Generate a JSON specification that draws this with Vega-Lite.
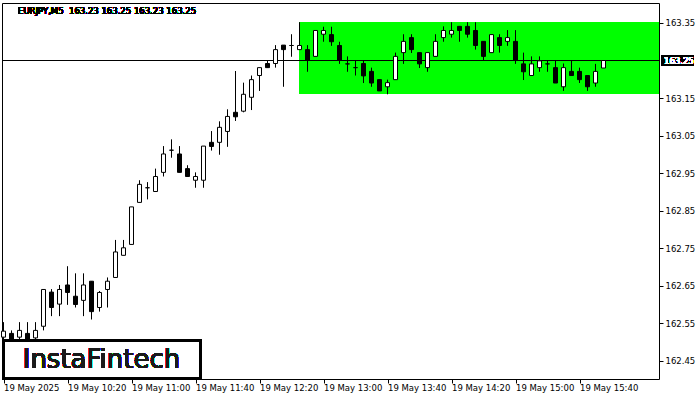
{
  "$schema": "https://vega.github.io/schema/vega-lite/v6.json",
  "width": 657,
  "height": 376,
  "autosize": {"type": "none"},
  "padding": {"left": 2, "top": 3, "right": 41, "bottom": 21},
  "background": "white",
  "config": {
    "view": {"stroke": "black", "strokeWidth": 1},
    "axis": {"labelFont": "DejaVu Sans", "labelColor": "black", "tickColor": "black", "domain": false, "grid": false, "title": null}
  },
  "data": {
    "format": {"parse": {"t": "utc:'%Y-%m-%d %H:%M'"}},
    "values": [
      {"t": "2025-05-19 09:40", "o": 162.513, "h": 162.553, "l": 162.500, "c": 162.529},
      {"t": "2025-05-19 09:45", "o": 162.523, "h": 162.531, "l": 162.497, "c": 162.508},
      {"t": "2025-05-19 09:50", "o": 162.513, "h": 162.553, "l": 162.497, "c": 162.531},
      {"t": "2025-05-19 09:55", "o": 162.523, "h": 162.553, "l": 162.492, "c": 162.505},
      {"t": "2025-05-19 10:00", "o": 162.511, "h": 162.553, "l": 162.500, "c": 162.531},
      {"t": "2025-05-19 10:05", "o": 162.542, "h": 162.640, "l": 162.531, "c": 162.640},
      {"t": "2025-05-19 10:10", "o": 162.633, "h": 162.641, "l": 162.569, "c": 162.592},
      {"t": "2025-05-19 10:15", "o": 162.601, "h": 162.652, "l": 162.569, "c": 162.640},
      {"t": "2025-05-19 10:20", "o": 162.652, "h": 162.702, "l": 162.599, "c": 162.632},
      {"t": "2025-05-19 10:25", "o": 162.622, "h": 162.683, "l": 162.592, "c": 162.600},
      {"t": "2025-05-19 10:30", "o": 162.611, "h": 162.683, "l": 162.569, "c": 162.652},
      {"t": "2025-05-19 10:35", "o": 162.662, "h": 162.662, "l": 162.560, "c": 162.581},
      {"t": "2025-05-19 10:40", "o": 162.592, "h": 162.636, "l": 162.581, "c": 162.632},
      {"t": "2025-05-19 10:45", "o": 162.640, "h": 162.672, "l": 162.592, "c": 162.662},
      {"t": "2025-05-19 10:50", "o": 162.672, "h": 162.772, "l": 162.672, "c": 162.740},
      {"t": "2025-05-19 10:55", "o": 162.731, "h": 162.772, "l": 162.731, "c": 162.751},
      {"t": "2025-05-19 11:00", "o": 162.760, "h": 162.860, "l": 162.760, "c": 162.860},
      {"t": "2025-05-19 11:05", "o": 162.872, "h": 162.931, "l": 162.872, "c": 162.920},
      {"t": "2025-05-19 11:10", "o": 162.911, "h": 162.926, "l": 162.880, "c": 162.911},
      {"t": "2025-05-19 11:15", "o": 162.901, "h": 162.962, "l": 162.901, "c": 162.941},
      {"t": "2025-05-19 11:20", "o": 162.952, "h": 163.022, "l": 162.941, "c": 163.001},
      {"t": "2025-05-19 11:25", "o": 163.011, "h": 163.040, "l": 162.991, "c": 163.011},
      {"t": "2025-05-19 11:30", "o": 163.001, "h": 163.022, "l": 162.952, "c": 162.952},
      {"t": "2025-05-19 11:35", "o": 162.962, "h": 162.971, "l": 162.941, "c": 162.941},
      {"t": "2025-05-19 11:40", "o": 162.931, "h": 162.952, "l": 162.911, "c": 162.941},
      {"t": "2025-05-19 11:45", "o": 162.931, "h": 163.022, "l": 162.911, "c": 163.022},
      {"t": "2025-05-19 11:50", "o": 163.032, "h": 163.062, "l": 163.010, "c": 163.021},
      {"t": "2025-05-19 11:55", "o": 163.032, "h": 163.088, "l": 162.999, "c": 163.072},
      {"t": "2025-05-19 12:00", "o": 163.061, "h": 163.120, "l": 163.020, "c": 163.101},
      {"t": "2025-05-19 12:05", "o": 163.112, "h": 163.222, "l": 163.089, "c": 163.100},
      {"t": "2025-05-19 12:10", "o": 163.115, "h": 163.191, "l": 163.112, "c": 163.160},
      {"t": "2025-05-19 12:15", "o": 163.152, "h": 163.210, "l": 163.118, "c": 163.199},
      {"t": "2025-05-19 12:20", "o": 163.210, "h": 163.231, "l": 163.169, "c": 163.231},
      {"t": "2025-05-19 12:25", "o": 163.242, "h": 163.251, "l": 163.231, "c": 163.231},
      {"t": "2025-05-19 12:30", "o": 163.242, "h": 163.291, "l": 163.231, "c": 163.279},
      {"t": "2025-05-19 12:35", "o": 163.291, "h": 163.291, "l": 163.180, "c": 163.279},
      {"t": "2025-05-19 12:40", "o": 163.290, "h": 163.320, "l": 163.260, "c": 163.290},
      {"t": "2025-05-19 12:45", "o": 163.279, "h": 163.352, "l": 163.279, "c": 163.290},
      {"t": "2025-05-19 12:50", "o": 163.279, "h": 163.291, "l": 163.220, "c": 163.251},
      {"t": "2025-05-19 12:55", "o": 163.261, "h": 163.330, "l": 163.261, "c": 163.330},
      {"t": "2025-05-19 13:00", "o": 163.320, "h": 163.340, "l": 163.300, "c": 163.330},
      {"t": "2025-05-19 13:05", "o": 163.319, "h": 163.340, "l": 163.289, "c": 163.300},
      {"t": "2025-05-19 13:10", "o": 163.290, "h": 163.300, "l": 163.241, "c": 163.251},
      {"t": "2025-05-19 13:15", "o": 163.241, "h": 163.261, "l": 163.220, "c": 163.241},
      {"t": "2025-05-19 13:20", "o": 163.231, "h": 163.251, "l": 163.210, "c": 163.231},
      {"t": "2025-05-19 13:25", "o": 163.242, "h": 163.251, "l": 163.190, "c": 163.209},
      {"t": "2025-05-19 13:30", "o": 163.221, "h": 163.231, "l": 163.180, "c": 163.190},
      {"t": "2025-05-19 13:35", "o": 163.199, "h": 163.199, "l": 163.169, "c": 163.169},
      {"t": "2025-05-19 13:40", "o": 163.180, "h": 163.199, "l": 163.160, "c": 163.191},
      {"t": "2025-05-19 13:45", "o": 163.199, "h": 163.271, "l": 163.199, "c": 163.261},
      {"t": "2025-05-19 13:50", "o": 163.271, "h": 163.320, "l": 163.241, "c": 163.301},
      {"t": "2025-05-19 13:55", "o": 163.311, "h": 163.320, "l": 163.270, "c": 163.279},
      {"t": "2025-05-19 14:00", "o": 163.271, "h": 163.271, "l": 163.230, "c": 163.241},
      {"t": "2025-05-19 14:05", "o": 163.231, "h": 163.271, "l": 163.220, "c": 163.271},
      {"t": "2025-05-19 14:10", "o": 163.261, "h": 163.320, "l": 163.261, "c": 163.301},
      {"t": "2025-05-19 14:15", "o": 163.311, "h": 163.341, "l": 163.300, "c": 163.330},
      {"t": "2025-05-19 14:20", "o": 163.320, "h": 163.352, "l": 163.311, "c": 163.330},
      {"t": "2025-05-19 14:25", "o": 163.341, "h": 163.341, "l": 163.300, "c": 163.330},
      {"t": "2025-05-19 14:30", "o": 163.341, "h": 163.352, "l": 163.311, "c": 163.320},
      {"t": "2025-05-19 14:35", "o": 163.330, "h": 163.352, "l": 163.279, "c": 163.290},
      {"t": "2025-05-19 14:40", "o": 163.301, "h": 163.301, "l": 163.251, "c": 163.261},
      {"t": "2025-05-19 14:45", "o": 163.271, "h": 163.319, "l": 163.271, "c": 163.319},
      {"t": "2025-05-19 14:50", "o": 163.311, "h": 163.320, "l": 163.271, "c": 163.290},
      {"t": "2025-05-19 14:55", "o": 163.301, "h": 163.331, "l": 163.289, "c": 163.311},
      {"t": "2025-05-19 15:00", "o": 163.301, "h": 163.331, "l": 163.241, "c": 163.251},
      {"t": "2025-05-19 15:05", "o": 163.241, "h": 163.271, "l": 163.198, "c": 163.220},
      {"t": "2025-05-19 15:10", "o": 163.210, "h": 163.261, "l": 163.210, "c": 163.241},
      {"t": "2025-05-19 15:15", "o": 163.231, "h": 163.261, "l": 163.220, "c": 163.249},
      {"t": "2025-05-19 15:20", "o": 163.241, "h": 163.250, "l": 163.220, "c": 163.241},
      {"t": "2025-05-19 15:25", "o": 163.231, "h": 163.250, "l": 163.190, "c": 163.190},
      {"t": "2025-05-19 15:30", "o": 163.180, "h": 163.242, "l": 163.169, "c": 163.231},
      {"t": "2025-05-19 15:35", "o": 163.221, "h": 163.250, "l": 163.210, "c": 163.210},
      {"t": "2025-05-19 15:40", "o": 163.221, "h": 163.231, "l": 163.190, "c": 163.199},
      {"t": "2025-05-19 15:45", "o": 163.210, "h": 163.210, "l": 163.169, "c": 163.180},
      {"t": "2025-05-19 15:50", "o": 163.190, "h": 163.241, "l": 163.180, "c": 163.221},
      {"t": "2025-05-19 15:55", "o": 163.230, "h": 163.250, "l": 163.230, "c": 163.250}
    ]
  },
  "layer": [
    {
      "mark": {"type": "rect", "color": "#00ff00"},
      "encoding": {
        "x": {"datum": {"year": 2025, "month": "May", "date": 19, "hours": 12, "minutes": 45, "utc": true}, "type": "temporal"},
        "x2": {"datum": {"year": 2025, "month": "May", "date": 19, "hours": 16, "minutes": 29, "seconds": 41, "milliseconds": 250, "utc": true}},
        "y": {"datum": 163.352, "type": "quantitative"},
        "y2": {"datum": 163.161}
      }
    },
    {
      "mark": {"type": "rule", "color": "black", "strokeWidth": 1},
      "encoding": {"y": {"datum": 163.25, "type": "quantitative"}}
    },
    {
      "mark": {"type": "rule", "color": "black", "strokeWidth": 1},
      "encoding": {
        "x": {
          "field": "t", "type": "temporal",
          "scale": {
            "type": "utc", "nice": false, "padding": 0,
            "domain": [
              {"year": 2025, "month": "May", "date": 19, "hours": 9, "minutes": 39, "seconds": 3, "milliseconds": 750, "utc": true},
              {"year": 2025, "month": "May", "date": 19, "hours": 16, "minutes": 29, "seconds": 41, "milliseconds": 250, "utc": true}
            ]
          },
          "axis": {
            "orient": "bottom",
            "values": [
              {"year": 2025, "month": "May", "date": 19, "hours": 9, "minutes": 40, "utc": true},
              {"year": 2025, "month": "May", "date": 19, "hours": 10, "minutes": 20, "utc": true},
              {"year": 2025, "month": "May", "date": 19, "hours": 11, "minutes": 0, "utc": true},
              {"year": 2025, "month": "May", "date": 19, "hours": 11, "minutes": 40, "utc": true},
              {"year": 2025, "month": "May", "date": 19, "hours": 12, "minutes": 20, "utc": true},
              {"year": 2025, "month": "May", "date": 19, "hours": 13, "minutes": 0, "utc": true},
              {"year": 2025, "month": "May", "date": 19, "hours": 13, "minutes": 40, "utc": true},
              {"year": 2025, "month": "May", "date": 19, "hours": 14, "minutes": 20, "utc": true},
              {"year": 2025, "month": "May", "date": 19, "hours": 15, "minutes": 0, "utc": true},
              {"year": 2025, "month": "May", "date": 19, "hours": 15, "minutes": 40, "utc": true}
            ],
            "labelExpr": "utcFormat(datum.value, '%H:%M') == '09:40' ? '19 May 2025' : utcFormat(datum.value, '%d %b %H:%M')",
            "labelAlign": "left",
            "labelBaseline": "top",
            "labelFontSize": 8.5,
            "labelPadding": 0,
            "tickSize": 4,
            "labelOverlap": false,
            "labelFlush": false
          }
        },
        "y": {
          "field": "l", "type": "quantitative",
          "scale": {"domain": [162.4015, 163.4032], "nice": false, "zero": false, "padding": 0},
          "axis": {
            "orient": "right",
            "values": [162.45, 162.55, 162.65, 162.75, 162.85, 162.95, 163.05, 163.15, 163.35],
            "format": ".2f",
            "labelFontSize": 8.5,
            "labelPadding": 2,
            "tickSize": 4
          }
        },
        "y2": {"field": "h"}
      }
    },
    {
      "mark": {"type": "bar", "size": 4, "stroke": "black", "strokeWidth": 1},
      "encoding": {
        "x": {"field": "t", "type": "temporal"},
        "y": {"field": "o", "type": "quantitative"},
        "y2": {"field": "c"},
        "fill": {"condition": {"test": "datum.c < datum.o", "value": "black"}, "value": "white"}
      }
    },
    {
      "mark": {"type": "rect", "fill": "white", "stroke": "black", "strokeWidth": 3},
      "encoding": {
        "x": {"datum": {"year": 2025, "month": "May", "date": 19, "hours": 9, "minutes": 40, "utc": true}, "type": "temporal"},
        "x2": {"datum": {"year": 2025, "month": "May", "date": 19, "hours": 11, "minutes": 43, "seconds": 7, "milliseconds": 500, "utc": true}},
        "y": {"datum": 162.504, "type": "quantitative"},
        "y2": {"datum": 162.403}
      }
    },
    {
      "mark": {"type": "text", "text": "InstaFintech", "font": "DejaVu Sans", "fontSize": 26, "color": "#1a1a1a", "align": "center", "baseline": "middle"},
      "encoding": {
        "x": {"datum": {"year": 2025, "month": "May", "date": 19, "hours": 10, "minutes": 41, "seconds": 15, "utc": true}, "type": "temporal"},
        "y": {"datum": 162.452, "type": "quantitative"}
      }
    },
    {
      "mark": {"type": "text", "text": "EURJPY,M5\u00a0 163.23 163.25 163.23 163.25", "font": "DejaVu Sans", "fontSize": 8.5, "color": "black", "align": "left", "baseline": "middle"},
      "encoding": {
        "x": {"datum": {"year": 2025, "month": "May", "date": 19, "hours": 9, "minutes": 49, "seconds": 4, "utc": true}, "type": "temporal"},
        "y": {"datum": 163.381, "type": "quantitative"}
      }
    },
    {
      "mark": {"type": "point", "shape": "M2,-5.5H35V5.5H2Z", "size": 4, "filled": true, "fill": "black", "strokeWidth": 0, "opacity": 1, "clip": false},
      "encoding": {
        "x": {"datum": {"year": 2025, "month": "May", "date": 19, "hours": 16, "minutes": 29, "seconds": 41, "milliseconds": 250, "utc": true}, "type": "temporal"},
        "y": {"datum": 163.25, "type": "quantitative"}
      }
    },
    {
      "mark": {"type": "text", "text": "163.25", "font": "DejaVu Sans", "fontSize": 8.5, "color": "white", "align": "left", "baseline": "middle", "dx": 5, "clip": false},
      "encoding": {
        "x": {"datum": {"year": 2025, "month": "May", "date": 19, "hours": 16, "minutes": 29, "seconds": 41, "milliseconds": 250, "utc": true}, "type": "temporal"},
        "y": {"datum": 163.25, "type": "quantitative"}
      }
    }
  ]
}
